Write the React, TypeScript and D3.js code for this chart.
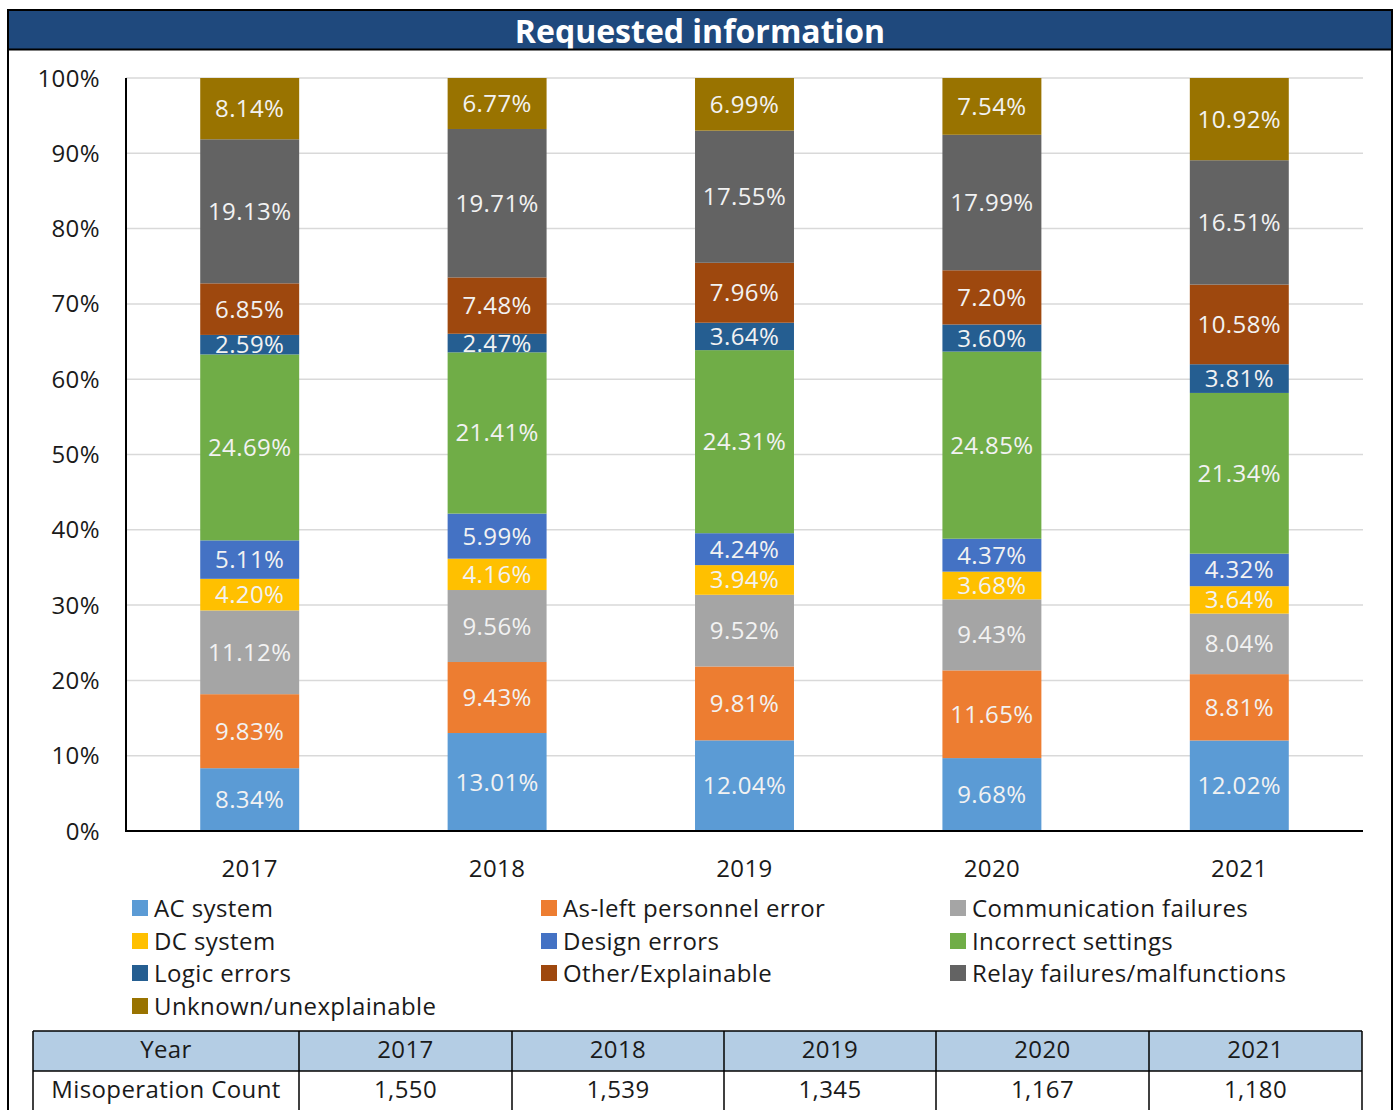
import React from "react";
import * as d3 from "d3";

const years = ["2017", "2018", "2019", "2020", "2021"];
const categories = [
  "AC system",
  "As-left personnel error",
  "Communication failures",
  "DC system",
  "Design errors",
  "Incorrect settings",
  "Logic errors",
  "Other/Explainable",
  "Relay failures/malfunctions",
  "Unknown/unexplainable",
];
const colors = ["#5B9BD5", "#ED7D31", "#A5A5A5", "#FFC000", "#4472C4", "#70AD47", "#255E91", "#9E480E", "#636363", "#997300"];
const acSystem = [8.34, 13.01, 12.04, 9.68, 12.02];
const asLeft = [9.83, 9.43, 9.81, 11.65, 8.81];
const commFailures = [11.12, 9.56, 9.52, 9.43, 8.04];
const dcSystem = [4.2, 4.16, 3.94, 3.68, 3.64];
const designErrors = [5.11, 5.99, 4.24, 4.37, 4.32];
const incorrectSettings = [24.69, 21.41, 24.31, 24.85, 21.34];
const logicErrors = [2.59, 2.47, 3.64, 3.6, 3.81];
const otherExplainable = [6.85, 7.48, 7.96, 7.2, 10.58];
const relayFailures = [19.13, 19.71, 17.55, 17.99, 16.51];
const unknownUnexplainable = [8.14, 6.77, 6.99, 7.54, 10.92];
const seriesValues = [acSystem, asLeft, commFailures, dcSystem, designErrors, incorrectSettings, logicErrors, otherExplainable, relayFailures, unknownUnexplainable];
const yTicks = [0, 0.1, 0.2, 0.3, 0.4, 0.5, 0.6, 0.7, 0.8, 0.9, 1.0];
const tableHeader = ["Year", ...years];
const tableRowLabel = "Misoperation Count";
const misopCounts = ["1,550", "1,539", "1,345", "1,167", "1,180"];

const FONT = "'Open Sans', Lato, sans-serif";

export default function App() {
  const W = 1394, H = 1110;
  const plotL = 126, plotR = 1363, plotT = 78, plotB = 831;
  const x = d3.scaleBand<string>().domain(years).range([plotL, plotR]).paddingInner(0.6).paddingOuter(0.3);
  const y = d3.scaleLinear().domain([0, 1]).range([plotB, plotT]);

  const rows = years.map((yr, i) => {
    const r: any = { year: yr };
    categories.forEach((c, k) => (r[c] = seriesValues[k][i]));
    return r;
  });
  const stack = d3.stack<any>().keys(categories).offset(d3.stackOffsetExpand);
  const stacked = stack(rows);

  const legendCols = [132, 541, 950];
  const legendRows = [908, 941, 973, 1006];

  const tableCols = [33, 299, 512, 724, 936, 1149, 1362];
  const tRow1 = 1031, tRow2 = 1071, tRow3 = 1111;
  const fs = 24;
  const ls = 0.4;
  const dy = 8.5;

  return (
    <div style={{ position: "absolute", left: 0, top: 0 }}>
      <svg width={W} height={H} style={{ display: "block" }} fontFamily={FONT}>
        <rect x={0} y={0} width={W} height={H} fill="#fff" />
        {/* title bar */}
        <rect x={8} y={10} width={1384} height={40} fill="#1F497D" />
        <text x={700} y={43} textAnchor="middle" fill="#fff" fontSize={32} fontWeight="bold">Requested information</text>
        <line x1={8} x2={1392} y1={49.5} y2={49.5} stroke="#000" strokeWidth={2} />
        <line x1={8} x2={1392} y1={10} y2={10} stroke="#000" strokeWidth={2} />
        <line x1={8} x2={8} y1={9} y2={H + 2} stroke="#000" strokeWidth={2} />
        <line x1={1392} x2={1392} y1={9} y2={H + 2} stroke="#000" strokeWidth={2} />

        {/* gridlines */}
        {yTicks.map((t) => (
          <line key={"g" + t} x1={plotL} x2={plotR} y1={y(t)} y2={y(t)} stroke="#D9D9D9" strokeWidth={1.5} />
        ))}
        {yTicks.map((t) => (
          <text key={"yl" + t} x={100} y={y(t) + dy} textAnchor="end" fontSize={fs} letterSpacing={ls} fill="#1a1a1a">
            {d3.format(".0%")(t)}
          </text>
        ))}

        {/* bars */}
        {stacked.map((s, k) => (
          <g key={s.key}>
            {s.map((d, i) => {
              const y0 = y(d[0]);
              const y1 = y(d[1]);
              return (
                <g key={i}>
                  <rect x={x(years[i])} y={y1} width={x.bandwidth()} height={y0 - y1} fill={colors[k]} />
                  <text
                    x={(x(years[i]) as number) + x.bandwidth() / 2}
                    y={(y0 + y1) / 2 + dy}
                    textAnchor="middle"
                    fontSize={fs}
                    letterSpacing={ls}
                    fill="#F2F2F2"
                  >
                    {seriesValues[k][i].toFixed(2) + "%"}
                  </text>
                </g>
              );
            })}
          </g>
        ))}

        {/* axes */}
        <line x1={plotL} x2={plotL} y1={plotT} y2={plotB + 1} stroke="#000" strokeWidth={2} />
        <line x1={plotL - 1} x2={plotR} y1={plotB} y2={plotB} stroke="#000" strokeWidth={2} />
        {years.map((yr) => (
          <text key={"xl" + yr} x={(x(yr) as number) + x.bandwidth() / 2} y={868 + dy} textAnchor="middle" fontSize={fs} letterSpacing={ls} fill="#1a1a1a">
            {yr}
          </text>
        ))}

        {/* legend */}
        {categories.map((c, k) => {
          const col = k % 3;
          const row = Math.floor(k / 3);
          const lx = legendCols[col];
          const ly = legendRows[row];
          return (
            <g key={"lg" + c}>
              <rect x={lx} y={ly - 8} width={16} height={16} fill={colors[k]} />
              <text x={lx + 22} y={ly + dy} fontSize={fs} letterSpacing={ls} fill="#1a1a1a">{c}</text>
            </g>
          );
        })}

        {/* table */}
        <rect x={tableCols[0]} y={tRow1} width={tableCols[6] - tableCols[0]} height={tRow2 - tRow1} fill="#B4CDE4" />
        {tableHeader.map((h, i) => (
          <text key={"th" + i} x={(tableCols[i] + tableCols[i + 1]) / 2} y={(tRow1 + tRow2) / 2 + dy - 2} textAnchor="middle" fontSize={fs} letterSpacing={ls} fill="#1a1a1a">{h}</text>
        ))}
        {[tableRowLabel, ...misopCounts].map((h, i) => (
          <text key={"td" + i} x={(tableCols[i] + tableCols[i + 1]) / 2} y={(tRow2 + tRow3) / 2 + dy - 2} textAnchor="middle" fontSize={fs} letterSpacing={ls} fill="#1a1a1a">{h}</text>
        ))}
        {[tRow1, tRow2].map((ry) => (
          <line key={"hr" + ry} x1={tableCols[0]} x2={tableCols[6]} y1={ry} y2={ry} stroke="#000" strokeWidth={1.5} />
        ))}
        {tableCols.map((cx) => (
          <line key={"vr" + cx} x1={cx} x2={cx} y1={tRow1} y2={tRow3} stroke="#000" strokeWidth={1.5} />
        ))}
      </svg>
    </div>
  );
}
